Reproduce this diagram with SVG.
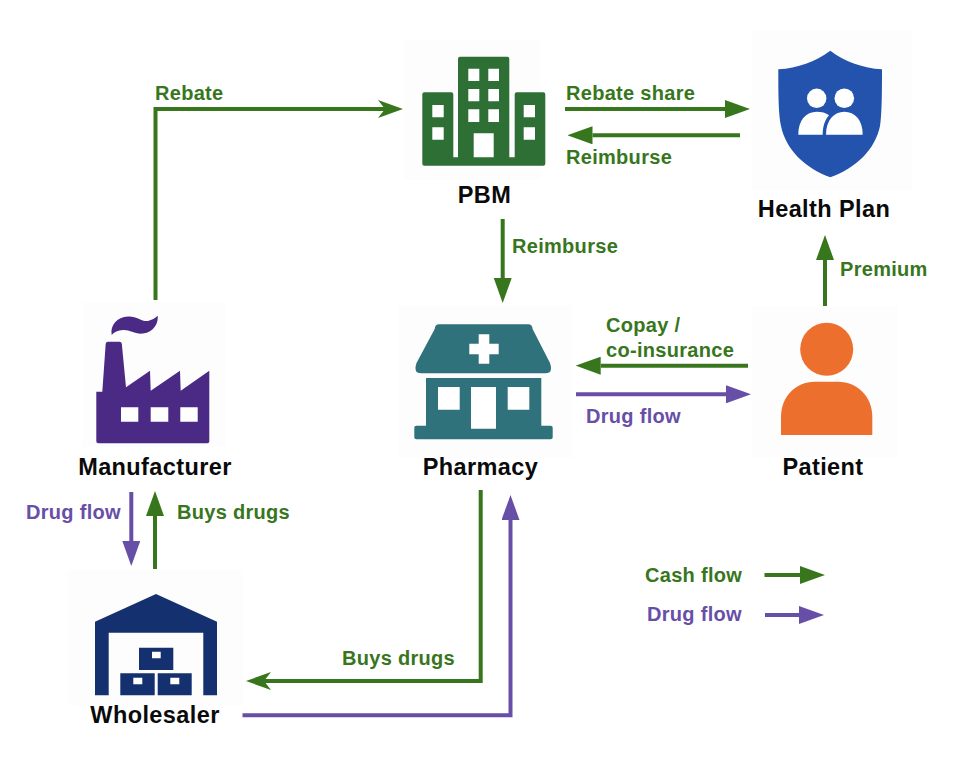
<svg xmlns="http://www.w3.org/2000/svg" width="963" height="767" viewBox="0 0 963 767">
<style>
text{font-family:"Liberation Sans",Arial,sans-serif;font-weight:700}
.n{font-size:23.500px;letter-spacing:.4px;fill:#0a0a0a;text-anchor:middle}
.c{font-size:20px;letter-spacing:.3px;fill:#38761d}
.d{font-size:20px;letter-spacing:.3px;fill:#674ea7}
.bg{fill:#fdfdfd}
.w{fill:#fff}
#connectors path{fill:none;stroke-width:4}
.gl{stroke:#38761d}
.pl{stroke:#674ea7}
.tg{marker-end:url(#ag)}
.tp{marker-end:url(#ap)}
</style>
<defs>
<marker id="ag" markerUnits="userSpaceOnUse" markerWidth="25" markerHeight="18" refX="0" refY="9" orient="auto"><path d="M0 0L25 9L0 18z" fill="#38761d"/></marker>
<marker id="ap" markerUnits="userSpaceOnUse" markerWidth="25" markerHeight="18" refX="0" refY="9" orient="auto"><path d="M0 0L25 9L0 18z" fill="#674ea7"/></marker>
<marker id="ng" markerUnits="userSpaceOnUse" markerWidth="25" markerHeight="18" refX="7" refY="9" orient="auto"><path d="M0 0L25 9L0 18L7 9z" fill="#38761d"/></marker>
</defs>
<rect width="963" height="767" fill="#fff"/>

<g id="connectors">
<path class="gl" d="M155.500 300V109H385" marker-end="url(#ng)"/>
<path class="gl tg" d="M565 109H725"/>
<path class="gl tg" d="M740 135.300H592.500"/>
<path class="gl tg" d="M502.700 219V278"/>
<path class="gl tg" d="M825 306V260"/>
<path class="gl tg" d="M748 365.700H600.700"/>
<path class="pl tp" d="M576 394.300H726"/>
<path class="pl tp" d="M131.300 492V541"/>
<path class="gl tg" d="M155 569V516"/>
<path class="gl" d="M480.700 490V681H264" marker-end="url(#ng)"/>
<path class="pl tp" d="M242.500 715.300H510.500V520"/>
<path class="gl tg" d="M764.500 575H800"/>
<path class="pl tp" d="M765 615H799"/>
</g>

<g id="pbm">
<rect class="bg" x="404" y="40" width="136" height="140"/>
<path fill="#2e6f36" d="M460 56.700H507.300Q509.300 56.700 509.300 58.700V157.300H514.700V94.300Q514.700 92.300 516.700 92.300H543.300Q545.300 92.300 545.300 94.300V163.700Q545.300 165.700 543.300 165.700H424.300Q422.300 165.700 422.300 163.700V94.300Q422.300 92.300 424.300 92.300H451.300Q453.300 92.300 453.300 94.300V157.300H458V58.700Q458 56.700 460 56.700Z"/>
<path class="w" d="M468.300 68.700h11v12.300h-11zM488.300 68.700h10.700v12.300h-10.700zM468.300 89h11v12.300h-11zM488.300 89h10.700v12.300h-10.700zM468.300 109.300h11v12.700h-11zM488.300 109.300h10.700v12.700h-10.700zM473.700 133.300h20v24h-20zM432.300 105h11.400v12.300h-11.400zM432.300 127.300h11.400v12.400h-11.400zM523.700 105h11.300v12.300h-11.300zM523.700 127.300h11.300v12.400h-11.300z"/>
<text class="n" x="484.500" y="203">PBM</text>
</g>

<g id="health-plan">
<rect class="bg" x="752" y="30" width="160" height="160"/>
<path fill="#2353ad" d="M830.300 50.700C815 62 798 68 778.300 69.300C778.300 95 778.500 115 781 126C786 150 805 168 830.300 177.300C856 168 875 150 880 126C881.800 115 882 95 882 69.300C863 68 845 62 830.300 50.700Z"/>
<circle class="w" cx="816.700" cy="98.300" r="9.700"/>
<circle class="w" cx="844.300" cy="98.300" r="9.800"/>
<path class="w" d="M826 134.700C826 120 834 111.700 844.300 111.700C855 111.700 862.700 120 862.700 134.700Z"/>
<path class="w" d="M798.300 134.700C798.300 120 806 111.700 816.700 111.700C821.500 111.700 826 112.800 829 115.200C825 120 822.700 126 822.700 134.700Z"/>
<text class="n" x="824" y="216.500">Health Plan</text>
</g>

<g id="pharmacy">
<rect class="bg" x="398" y="305" width="174" height="153"/>
<path fill="#2f727c" d="M439 324.300H528.300Q532.300 324.300 532.600 329L550 363Q553.500 373.300 545 373.300H421.500Q413 373.300 416.500 363L434.700 329Q435 324.300 439 324.300Z"/>
<path fill="#2f727c" d="M426 378H541.300V425.700H550.700Q552.700 425.700 552.700 427.700V437.300Q552.700 439.300 550.700 439.300H416.300Q414.300 439.300 414.300 437.300V427.700Q414.300 425.700 416.300 425.700H426Z"/>
<path class="w" d="M478.700 334.300h10.600v9.400h9.400v10.600h-9.400v9.400h-10.600v-9.400h-9.400v-10.600h9.400z"/>
<path class="w" d="M438 387h21.700v22.700H438zM507.700 387h21.600v22.700h-21.600zM471 387h25v41.700h-25z"/>
<text class="n" x="480.500" y="474.500">Pharmacy</text>
</g>

<g id="manufacturer">
<rect class="bg" x="83" y="302" width="142" height="145"/>
<path fill="#4a2a85" d="M96.300 391.700H102.300L105.700 343.700Q105.900 341.700 108 341.700H119.500Q121.500 341.700 121.800 343.700L126 387.300L150 370.700L150.700 390.700L180 370.700L180.700 390.700L209.300 370.700V441.300Q209.300 443.300 207.300 443.300H98.300Q96.300 443.300 96.300 441.300Z"/>
<path fill="#4a2a85" d="M111.700 335C110 325 117 317 128 316.500C137 316 142 322 148 321C152 320 155 318 157.700 315.700C158.500 323 154 332 143 333.500C135 334.500 130 329.500 123 330C118 330.300 114 332 111.700 335Z"/>
<path class="w" d="M121 407.300h17.300v14.400H121zM150.700 407.300h17.600v14.400h-17.600zM180.300 407.300h17.400v14.400h-17.400z"/>
<text class="n" x="155" y="474.500">Manufacturer</text>
</g>

<g id="wholesaler">
<rect class="bg" x="68" y="570" width="175" height="135"/>
<path fill="#14306f" d="M156 594L217 621.700V695.300H203.300V632.700H108.700V695.300H95V621.700Z"/>
<path fill="#14306f" d="M139 647.700h34.300V670H139zM120.300 673.300h34.400v22h-34.400zM157.700 673.300h34v22h-34z"/>
<path class="w" d="M152 651.700h8.700v6.600H152zM133.300 677.700h9v6.600h-9zM170.300 677.700h9v6.600h-9z"/>
<text class="n" x="155" y="723">Wholesaler</text>
</g>

<g id="patient">
<rect class="bg" x="752" y="307" width="146" height="150"/>
<circle cx="826.700" cy="349.300" r="26.500" fill="#ec6f2d"/>
<path fill="#ec6f2d" d="M781 435V417C781 397 795 381.700 815 381.700H838C858 381.700 872.300 397 872.300 417V435Z"/>
<text class="n" x="823" y="474.500">Patient</text>
</g>

<g id="labels">
<text class="c" x="155" y="100">Rebate</text>
<text class="c" x="566" y="100">Rebate share</text>
<text class="c" x="566" y="164">Reimburse</text>
<text class="c" x="512" y="253">Reimburse</text>
<text class="c" x="840" y="276">Premium</text>
<text class="c" x="606" y="332">Copay /</text>
<text class="c" x="606" y="357">co-insurance</text>
<text class="d" x="586" y="423">Drug flow</text>
<text class="d" x="26" y="519">Drug flow</text>
<text class="c" x="177" y="519">Buys drugs</text>
<text class="c" x="342" y="665">Buys drugs</text>
<text class="c" x="645" y="582">Cash flow</text>
<text class="d" x="647" y="621">Drug flow</text>
</g>
</svg>
